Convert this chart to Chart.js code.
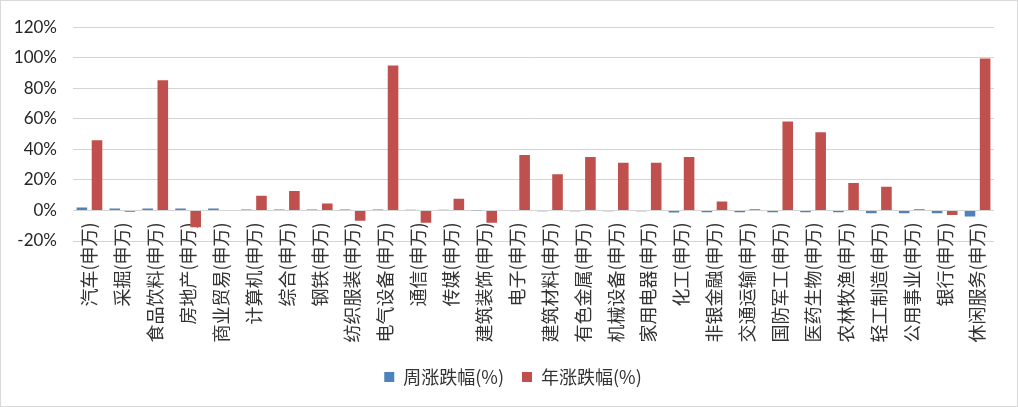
<!DOCTYPE html>
<html>
<head>
<meta charset="utf-8">
<script src="https://cdn.jsdelivr.net/npm/chart.js@4/dist/chart.umd.min.js"></script>
<style>
  html, body { margin: 0; padding: 0; background: #fff; }
  #wrap { width: 1018px; height: 407px; box-sizing: border-box; border: 1px solid #d9d9d9; background: #fff; }
  canvas { display: block; }
</style>
</head>
<body>
<div id="wrap"><canvas id="c" width="1016" height="405"></canvas></div>
<script>
const categories = ['汽车(申万)','采掘(申万)','食品饮料(申万)','房地产(申万)','商业贸易(申万)','计算机(申万)','综合(申万)','钢铁(申万)','纺织服装(申万)','电气设备(申万)','通信(申万)','传媒(申万)','建筑装饰(申万)','电子(申万)','建筑材料(申万)','有色金属(申万)','机械设备(申万)','家用电器(申万)','化工(申万)','非银金融(申万)','交通运输(申万)','国防军工(申万)','医药生物(申万)','农林牧渔(申万)','轻工制造(申万)','公用事业(申万)','银行(申万)','休闲服务(申万)'];
const weeklyChange = [2.0, 1.3, 1.3, 1.3, 1.3, 0.6, 0.6, 0.6, 0.6, 0.6, 0.5, 0.5, 0.1, 0.0, -0.6, -0.6, -0.6, -0.6, -1.3, -1.2, -1.2, -1.2, -1.2, -1.2, -1.9, -1.9, -1.9, -3.9];
const yearChange = [46.0, -0.8, 85.3, -11.0, 0.0, 9.6, 12.8, 4.5, -6.8, 95.0, -8.0, 7.7, -8.0, 36.3, 23.7, 35.0, 31.2, 31.2, 35.0, 5.8, 0.8, 58.3, 51.2, 18.0, 15.6, 0.8, -3.0, 99.5];
const seriesNames = ['周涨跌幅(%)', '年涨跌幅(%)'];
const yTicks = [-20, 0, 20, 40, 60, 80, 100, 120];

const cjk = "'Noto Sans CJK SC', sans-serif";

new Chart(document.getElementById('c'), {
  type: 'bar',
  data: {
    labels: categories,
    datasets: [
      { label: seriesNames[0], data: weeklyChange, backgroundColor: '#4F81BD', borderWidth: 0, categoryPercentage: 0.92, barPercentage: 0.7 },
      { label: seriesNames[1], data: yearChange, backgroundColor: '#C0504D', borderWidth: 0, categoryPercentage: 0.92, barPercentage: 0.7 }
    ]
  },
  options: {
    responsive: false,
    animation: false,
    layout: { padding: { left: 8, right: 0, top: 22, bottom: 10 } },
    plugins: {
      tooltip: { enabled: false },
      legend: {
        position: 'bottom',
        labels: {
          boxWidth: 10, boxHeight: 10, padding: 18,
          color: '#333333',
          font: { family: cjk, size: 18 }
        }
      }
    },
    scales: {
      x: {
        type: 'category',
        position: { y: 0 },
        grid: { display: false, drawTicks: false },
        border: { display: false },
        ticks: {
          autoSkip: false, minRotation: 90, maxRotation: 90, padding: 12,
          color: '#333333',
          font: { family: cjk, size: 18 }
        }
      },
      xSpace: {
        type: 'linear',
        axis: 'x',
        position: 'bottom',
        grid: { display: false, drawTicks: false },
        border: { display: false },
        ticks: { display: false },
        afterFit: s => { s.height = 109; }
      },
      y: {
        min: -20, max: 120,
        grid: { color: '#d4d4d4', drawTicks: false, lineWidth: 1 },
        border: { display: false },
        afterBuildTicks: s => { s.ticks = yTicks.map(v => ({ value: v })); },
        afterFit: s => { s.width = 64; },
        ticks: {
          padding: 16,
          color: '#262626',
          font: { family: "Lato, 'Liberation Sans', sans-serif", size: 17 },
          callback: v => v + '%'
        }
      },
      ySpace: {
        type: 'linear',
        axis: 'y',
        position: 'right',
        grid: { display: false, drawTicks: false },
        border: { display: false },
        ticks: { display: false },
        afterFit: s => { s.width = 23; }
      }
    }
  }
});
</script>
</body>
</html>
